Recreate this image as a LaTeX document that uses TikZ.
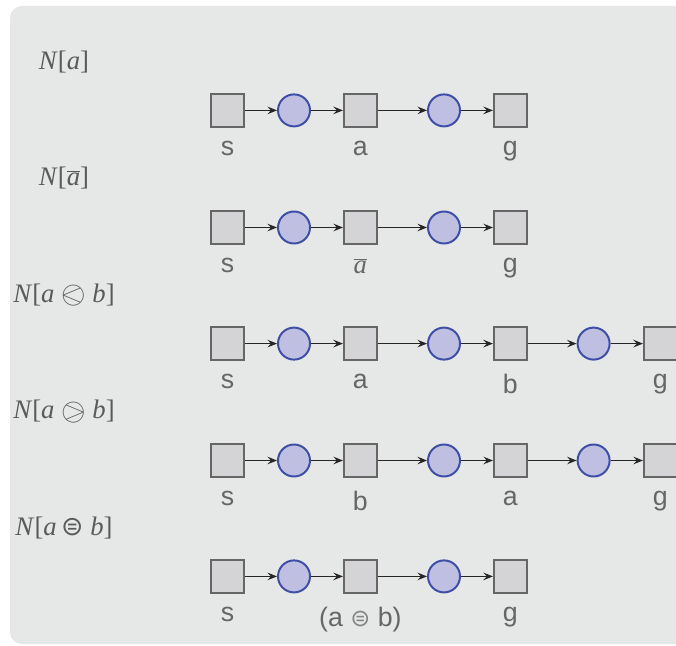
\documentclass[tikz,border=0pt]{standalone}
\usepackage{fontspec}
\usepackage{stmaryrd}
\setmainfont{Liberation Serif}
\setsansfont{Liberation Sans}
\newfontfamily\symfont{DejaVu Sans}
\usetikzlibrary{arrows.meta,positioning}

\definecolor{panel}{HTML}{E6E7E7}
\definecolor{sqfill}{HTML}{D4D4D6}
\definecolor{sqline}{HTML}{666666}
\definecolor{cfill}{HTML}{BEBFE1}
\definecolor{cline}{HTML}{3E4DA6}
\definecolor{txt}{HTML}{5A5A5A}
\definecolor{lbltxt}{HTML}{666666}

% bigger circled operators
\newcommand{\obefore}{\mathbin{\raisebox{-0.12ex}{\scalebox{1.3}{$\olessthan$}}}}
\newcommand{\oafter}{\mathbin{\raisebox{-0.12ex}{\scalebox{1.3}{$\ogreaterthan$}}}}

\tikzset{sq/.style={draw=sqline, fill=sqfill, line width=1.4pt, minimum size=0.825cm, inner sep=0pt},
circ/.style={circle, draw=cline, fill=cfill, line width=1.4pt, minimum size=0.8cm, inner sep=0pt},
arr/.style={-{Stealth[length=2.4mm,width=1.9mm,inset=0.9mm]}, line width=0.8pt, color=black!85},
%labels under the boxes
lbl/.style={below=0.33cm of #1, inner sep=0pt, text=lbltxt, font=\sffamily\fontsize{19}{22}\selectfont},
tag/.style={text=txt, font=\fontsize{19}{22}\selectfont}}

\begin{document}
\begin{tikzpicture}

\clip (0,0) rectangle (16.9,-16.15);
\fill[white] (0,0) rectangle (16.9,-16.15);
\fill[panel, rounded corners=0.3cm] (0.25,-0.15) rectangle (17.5,-16.1);

% N[a]
\node[tag] (t1) at (1.6,-1.55) {\textit{N}[\textit{a}]};
\node[sq] (s1) at (5.69,-2.76) {};
\node[circ] (c11) at (7.35,-2.76) {};
\node[sq] (a1) at (9.01,-2.76) {};
\node[circ] (c12) at (11.1,-2.76) {};
\node[sq] (g1) at (12.76,-2.76) {};
\draw[arr] (s1) -- (c11);
\draw[arr] (c11) -- (a1);
\draw[arr] (a1) -- (c12);
\draw[arr] (c12) -- (g1);
\node[lbl=s1] {s};
\node[lbl=a1] {a};
\node[lbl=g1] {g};

% N[a bar]
\node[tag] (t2) at (1.6,-4.46) {\textit{N}[$\overline{\mbox{\textit{a}}}$]};
\node[sq] (s2) at (5.69,-5.6875) {};
\node[circ] (c21) at (7.35,-5.6875) {};
\node[sq] (a2) at (9.01,-5.6875) {};
\node[circ] (c22) at (11.1,-5.6875) {};
\node[sq] (g2) at (12.76,-5.6875) {};
\draw[arr] (s2) -- (c21);
\draw[arr] (c21) -- (a2);
\draw[arr] (a2) -- (c22);
\draw[arr] (c22) -- (g2);
\node[lbl=s2] {s};
\node[lbl=a2, font=\fontsize{19}{22}\selectfont] {$\overline{\mbox{\textit{a}}}$};
\node[lbl=g2] {g};

% a before b
\node[tag] (t3) at (1.6,-7.375) {\textit{N}[\textit{a} $\obefore$ \textit{b}]};
\node[sq] (s3) at (5.69,-8.59) {};
\node[circ] (c31) at (7.35,-8.59) {};
\node[sq] (a3) at (9.01,-8.59) {};
\node[circ] (c32) at (11.1,-8.59) {};
\node[sq] (b3) at (12.76,-8.59) {};
\node[circ] (c33) at (14.84,-8.59) {};
\node[sq] (g3) at (16.51,-8.59) {};
\draw[arr] (s3) -- (c31);
\draw[arr] (c31) -- (a3);
\draw[arr] (a3) -- (c32);
\draw[arr] (c32) -- (b3);
\draw[arr] (b3) -- (c33);
\draw[arr] (c33) -- (g3);
\node[lbl=s3] {s};
\node[lbl=a3] {a};
\node[lbl=b3] {b};
\node[lbl=g3] {g};

% b before a
\node[tag] (t4) at (1.6,-10.29) {\textit{N}[\textit{a} $\oafter$ \textit{b}]};
\node[sq] (s4) at (5.69,-11.5125) {};
\node[circ] (c41) at (7.35,-11.5125) {};
\node[sq] (b4) at (9.01,-11.5125) {};
\node[circ] (c42) at (11.1,-11.5125) {};
\node[sq] (a4) at (12.76,-11.5125) {};
\node[circ] (c43) at (14.84,-11.5125) {};
\node[sq] (g4) at (16.51,-11.5125) {};
\draw[arr] (s4) -- (c41);
\draw[arr] (c41) -- (b4);
\draw[arr] (b4) -- (c42);
\draw[arr] (c42) -- (a4);
\draw[arr] (a4) -- (c43);
\draw[arr] (c43) -- (g4);
\node[lbl=s4] {s};
\node[lbl=b4] {b};
\node[lbl=a4] {a};
\node[lbl=g4] {g};

% a and b together
\node[tag] (t5) at (1.6,-13.2) {\textit{N}[\textit{a}\,{\symfont\fontsize{19}{22}\selectfont ⊜} \textit{b}]};
\node[sq] (s5) at (5.69,-14.41) {};
\node[circ] (c51) at (7.35,-14.41) {};
\node[sq] (ab5) at (9.01,-14.41) {};
\node[circ] (c52) at (11.1,-14.41) {};
\node[sq] (g5) at (12.76,-14.41) {};
\draw[arr] (s5) -- (c51);
\draw[arr] (c51) -- (ab5);
\draw[arr] (ab5) -- (c52);
\draw[arr] (c52) -- (g5);
\node[lbl=s5] {s};
\node[lbl=ab5] {(a {\symfont\fontsize{17}{20}\selectfont\color{lbltxt!80}⊜} b)};
\node[lbl=g5] {g};

\end{tikzpicture}
\end{document}
